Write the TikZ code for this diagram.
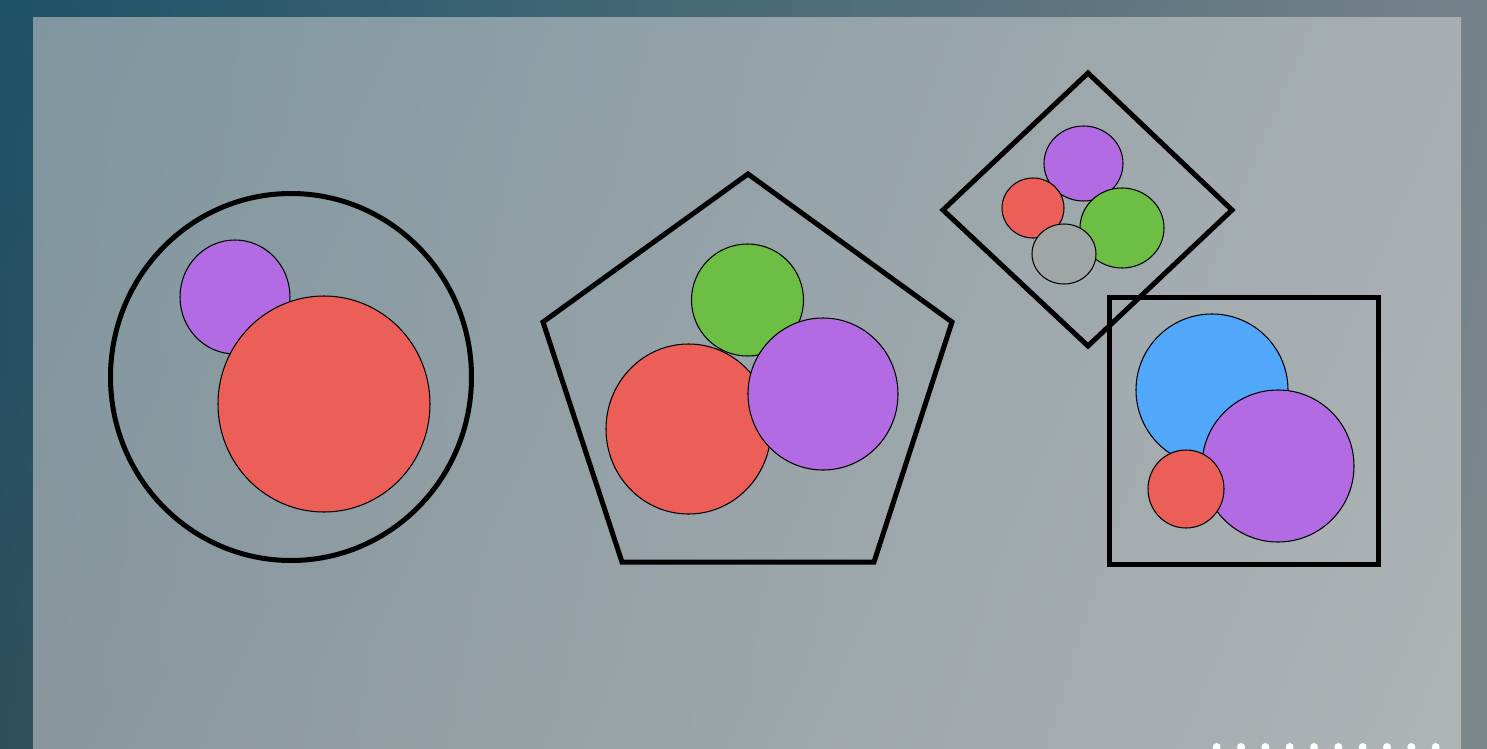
\documentclass[tikz,border=0pt]{standalone}
\usetikzlibrary{shadings}
\definecolor{outertl}{HTML}{1C5267}
\definecolor{outertr}{HTML}{76828A}
\definecolor{outerbl}{HTML}{314E5D}
\definecolor{outerbr}{HTML}{7C878B}
\definecolor{innertl}{HTML}{7F96A0}
\definecolor{innertr}{HTML}{A7AEB1}
\definecolor{innerbl}{HTML}{89979D}
\definecolor{innerbr}{HTML}{AFB4B6}
\definecolor{ballred}{HTML}{EC5F59}
\definecolor{ballpurple}{HTML}{B36BE3}
\definecolor{ballgreen}{HTML}{6DBE45}
\definecolor{ballblue}{HTML}{51A7F9}
\definecolor{ballgrey}{HTML}{A0A5A5}

\begin{document}
\begin{tikzpicture}[
    x=0.01cm, y=-0.01cm,
    frame/.style={draw=black, line width=0.05cm, line join=miter},
    ball/.style={draw=black, line width=0.3pt},
]
\useasboundingbox (0,0) rectangle (1487,748);
\shade[upper left=outertl, upper right=outertr, lower left=outerbl, lower right=outerbr]
    (0,0) rectangle (1487,748);
\shade[upper left=innertl, upper right=innertr, lower left=innerbl, lower right=innerbr]
    (33,17) rectangle (1461,748);

% circle
\draw[frame] (291,377) ellipse [x radius=180.5, y radius=183.5];
\fill[ballpurple, ball] (235,297) ellipse [x radius=55, y radius=57];
\fill[ballred, ball] (324,404) ellipse [x radius=106, y radius=108];

% pentagon
\draw[frame] (748,174) -- (952,322) -- (874,562) -- (622,562) -- (543,322) -- cycle;
\fill[ballgreen, ball] (747.5,300) circle [radius=56];
\fill[ballred, ball] (688.5,429) ellipse [x radius=82.5, y radius=85];
\fill[ballpurple, ball] (823,394) ellipse [x radius=75, y radius=76];

% diamond
\draw[frame] (1088,73) -- (1232,210) -- (1088,346) -- (943,210) -- cycle;
\fill[ballpurple, ball] (1083.5,163.5) ellipse [x radius=39.5, y radius=37.5];
\fill[ballred, ball] (1033,208) ellipse [x radius=31, y radius=30];
\fill[ballgreen, ball] (1122,228) ellipse [x radius=42, y radius=40];
\fill[ballgrey, ball] (1064,254) ellipse [x radius=32, y radius=30];

% square
\draw[frame] (1109,297) rectangle (1378,564);
\fill[ballblue, ball] (1212,390) circle [radius=76];
\fill[ballpurple, ball] (1278,466) circle [radius=76];
\fill[ballred, ball] (1186,489) ellipse [x radius=38, y radius=39];

\foreach \i in {0,...,9} {
    \fill[white] (1216.7+24.33*\i, 747) circle [radius=4];
}
\end{tikzpicture}
\end{document}
